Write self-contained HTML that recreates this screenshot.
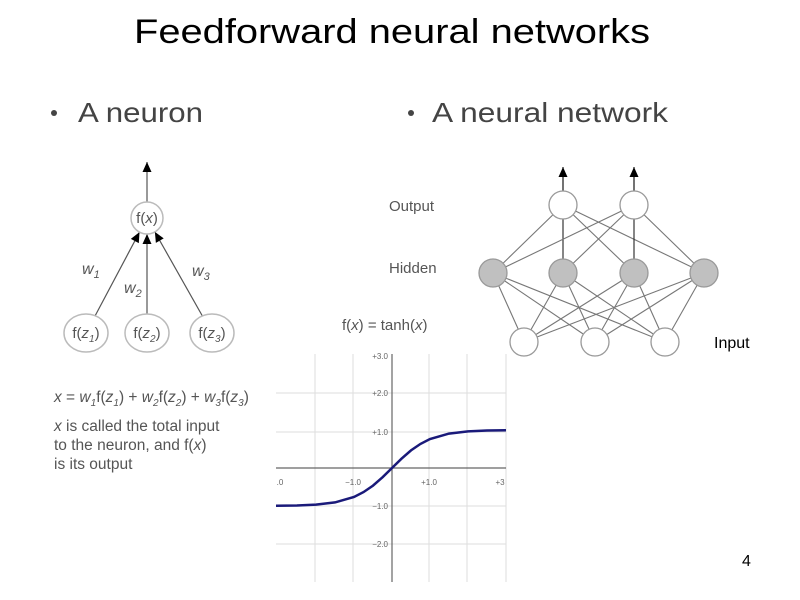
<!DOCTYPE html>
<html><head><meta charset="utf-8"><style>
html,body{margin:0;padding:0;background:#fff;width:800px;height:600px;overflow:hidden}
svg{display:block;font-family:"Liberation Sans",sans-serif}
</style></head><body>
<svg width="800" height="600" viewBox="0 0 800 600" xmlns="http://www.w3.org/2000/svg">
<defs>
<marker id="a15" markerUnits="userSpaceOnUse" markerWidth="40" markerHeight="20" viewBox="-12 -6 40 12" refX="-15" refY="0" orient="auto" overflow="visible"><path d="M-15,0 L-25,-4.5 L-25,4.5 Z" fill="#000"/></marker>
<marker id="a16" markerUnits="userSpaceOnUse" markerWidth="40" markerHeight="20" refX="0" refY="0" orient="auto" overflow="visible"><path d="M-16,0 L-26,-4.5 L-26,4.5 Z" fill="#000"/></marker>
<marker id="a0" markerUnits="userSpaceOnUse" markerWidth="20" markerHeight="20" refX="0" refY="0" orient="auto" overflow="visible"><path d="M0,0 L-10,-4.5 L-10,4.5 Z" fill="#000"/></marker>
</defs>
<text x="134" y="43" font-size="34" fill="#000" textLength="516" lengthAdjust="spacingAndGlyphs">Feedforward neural networks</text>
<circle cx="54" cy="113" r="3" fill="#444"/>
<text x="78" y="122" font-size="28" fill="#444" textLength="125" lengthAdjust="spacingAndGlyphs">A neuron</text>
<circle cx="411" cy="113" r="3" fill="#444"/>
<text x="432" y="122" font-size="28" fill="#444" textLength="236" lengthAdjust="spacingAndGlyphs">A neural network</text>

<!-- neuron -->
<g stroke="#555" stroke-width="1.2">
<line x1="147" y1="202" x2="147" y2="162" marker-end="url(#a0)"/>
<line x1="86" y1="333" x2="147" y2="218" marker-end="url(#a16)"/>
<line x1="147" y1="333" x2="147" y2="218" marker-end="url(#a16)"/>
<line x1="212" y1="333" x2="147" y2="218" marker-end="url(#a16)"/>
</g>
<g fill="#fff" stroke="#bbb" stroke-width="1.5">
<circle cx="147" cy="218" r="16"/>
<ellipse cx="86" cy="333" rx="22" ry="19"/>
<ellipse cx="147" cy="333" rx="22" ry="19"/>
<ellipse cx="212" cy="333" rx="22" ry="19"/>
</g>
<g font-size="15" fill="#555" text-anchor="middle">
<text x="147" y="223">f(<tspan font-style="italic">x</tspan>)</text>
<text x="86" y="338">f(<tspan font-style="italic">z</tspan><tspan font-size="10" dy="4" font-style="italic">1</tspan><tspan dy="-4">)</tspan></text>
<text x="147" y="338">f(<tspan font-style="italic">z</tspan><tspan font-size="10" dy="4" font-style="italic">2</tspan><tspan dy="-4">)</tspan></text>
<text x="212" y="338">f(<tspan font-style="italic">z</tspan><tspan font-size="10" dy="4" font-style="italic">3</tspan><tspan dy="-4">)</tspan></text>
</g>
<g font-size="16" fill="#555" font-style="italic">
<text x="82" y="274">w<tspan font-size="11" dy="4">1</tspan></text>
<text x="124" y="293">w<tspan font-size="11" dy="4">2</tspan></text>
<text x="192" y="276">w<tspan font-size="11" dy="4">3</tspan></text>
</g>
<g font-size="15.5" fill="#555">
<text x="54" y="402"><tspan font-style="italic">x</tspan> = <tspan font-style="italic">w</tspan><tspan font-size="10" dy="4" font-style="italic">1</tspan><tspan dy="-4">f(</tspan><tspan font-style="italic">z</tspan><tspan font-size="10" dy="4" font-style="italic">1</tspan><tspan dy="-4">) + </tspan><tspan font-style="italic">w</tspan><tspan font-size="10" dy="4" font-style="italic">2</tspan><tspan dy="-4">f(</tspan><tspan font-style="italic">z</tspan><tspan font-size="10" dy="4" font-style="italic">2</tspan><tspan dy="-4">) + </tspan><tspan font-style="italic">w</tspan><tspan font-size="10" dy="4" font-style="italic">3</tspan><tspan dy="-4">f(</tspan><tspan font-style="italic">z</tspan><tspan font-size="10" dy="4" font-style="italic">3</tspan><tspan dy="-4">)</tspan></text>
<text x="54" y="431"><tspan font-style="italic">x</tspan> is called the total input</text>
<text x="54" y="450">to the neuron, and f(<tspan font-style="italic">x</tspan>)</text>
<text x="54" y="469">is its output</text>
</g>

<!-- network labels -->
<g font-size="15" fill="#555">
<text x="389" y="211">Output</text>
<text x="389" y="273">Hidden</text>
<text x="342" y="330">f(<tspan font-style="italic">x</tspan>) = tanh(<tspan font-style="italic">x</tspan>)</text>
</g>
<text x="714" y="348" font-size="16" fill="#000">Input</text>
<text x="742" y="566" font-size="16" fill="#000">4</text>

<!-- network edges -->
<g stroke="#777" stroke-width="1.1">
<line x1="563" y1="191" x2="563" y2="167" stroke="#000" marker-end="url(#a0)"/>
<line x1="634" y1="191" x2="634" y2="167" stroke="#000" marker-end="url(#a0)"/>
<line x1="493" y1="273" x2="563" y2="205" marker-end="url(#a15)"/>
<line x1="563" y1="273" x2="563" y2="205" stroke="#222" marker-end="url(#a15)"/>
<line x1="634" y1="273" x2="563" y2="205" marker-end="url(#a15)"/>
<line x1="704" y1="273" x2="563" y2="205" marker-end="url(#a15)"/>
<line x1="493" y1="273" x2="634" y2="205" marker-end="url(#a15)"/>
<line x1="563" y1="273" x2="634" y2="205" marker-end="url(#a15)"/>
<line x1="634" y1="273" x2="634" y2="205" stroke="#222" marker-end="url(#a15)"/>
<line x1="704" y1="273" x2="634" y2="205" marker-end="url(#a15)"/>
<line x1="524" y1="342" x2="493" y2="273" marker-end="url(#a15)"/>
<line x1="524" y1="342" x2="563" y2="273" marker-end="url(#a15)"/>
<line x1="524" y1="342" x2="634" y2="273" marker-end="url(#a15)"/>
<line x1="524" y1="342" x2="704" y2="273" marker-end="url(#a15)"/>
<line x1="595" y1="342" x2="493" y2="273" marker-end="url(#a15)"/>
<line x1="595" y1="342" x2="563" y2="273" marker-end="url(#a15)"/>
<line x1="595" y1="342" x2="634" y2="273" marker-end="url(#a15)"/>
<line x1="595" y1="342" x2="704" y2="273" marker-end="url(#a15)"/>
<line x1="665" y1="342" x2="493" y2="273" marker-end="url(#a15)"/>
<line x1="665" y1="342" x2="563" y2="273" marker-end="url(#a15)"/>
<line x1="665" y1="342" x2="634" y2="273" marker-end="url(#a15)"/>
<line x1="665" y1="342" x2="704" y2="273" marker-end="url(#a15)"/>
</g>
<g stroke="#999" stroke-width="1.3">
<circle cx="563" cy="205" r="14" fill="#fff"/>
<circle cx="634" cy="205" r="14" fill="#fff"/>
<circle cx="493" cy="273" r="14" fill="#c0c0c0"/>
<circle cx="563" cy="273" r="14" fill="#c0c0c0"/>
<circle cx="634" cy="273" r="14" fill="#c0c0c0"/>
<circle cx="704" cy="273" r="14" fill="#c0c0c0"/>
<circle cx="524" cy="342" r="14" fill="#fff"/>
<circle cx="595" cy="342" r="14" fill="#fff"/>
<circle cx="665" cy="342" r="14" fill="#fff"/>
</g>

<!-- tanh graph -->
<g stroke="#ddd" stroke-width="1">
<line x1="315" y1="354" x2="315" y2="582"/>
<line x1="353" y1="354" x2="353" y2="582"/>
<line x1="429" y1="354" x2="429" y2="582"/>
<line x1="467" y1="354" x2="467" y2="582"/>
<line x1="506" y1="354" x2="506" y2="582"/>
<line x1="276" y1="393" x2="506" y2="393"/>
<line x1="276" y1="432" x2="506" y2="432"/>
<line x1="276" y1="506" x2="506" y2="506"/>
<line x1="276" y1="544" x2="506" y2="544"/>
</g>
<g stroke="#666" stroke-width="1.2">
<line x1="276" y1="468" x2="506" y2="468"/>
<line x1="392" y1="354" x2="392" y2="582"/>
</g>
<g font-size="8" fill="#666" text-anchor="end">
<text x="388" y="359">+3.0</text>
<text x="388" y="396">+2.0</text>
<text x="388" y="435">+1.0</text>
<text x="388" y="509">−1.0</text>
<text x="388" y="547">−2.0</text>
</g>
<g font-size="8" fill="#666" text-anchor="middle">
<text x="280" y="485">.0</text>
<text x="353" y="485">−1.0</text>
<text x="429" y="485">+1.0</text>
<text x="500" y="485">+3</text>
</g>
<polyline fill="none" stroke="#1a1a7a" stroke-width="2.5" points="276,505.8 297,505.5 316,504.6 335,502.4 354,497 363.5,492.1 373,485.6 382.5,477.3 392,468 401.5,458.7 411,450.4 420.5,443.9 430,439 449,433.6 468,431.4 487,430.5 506,430.2"/>
</svg>
</body></html>
